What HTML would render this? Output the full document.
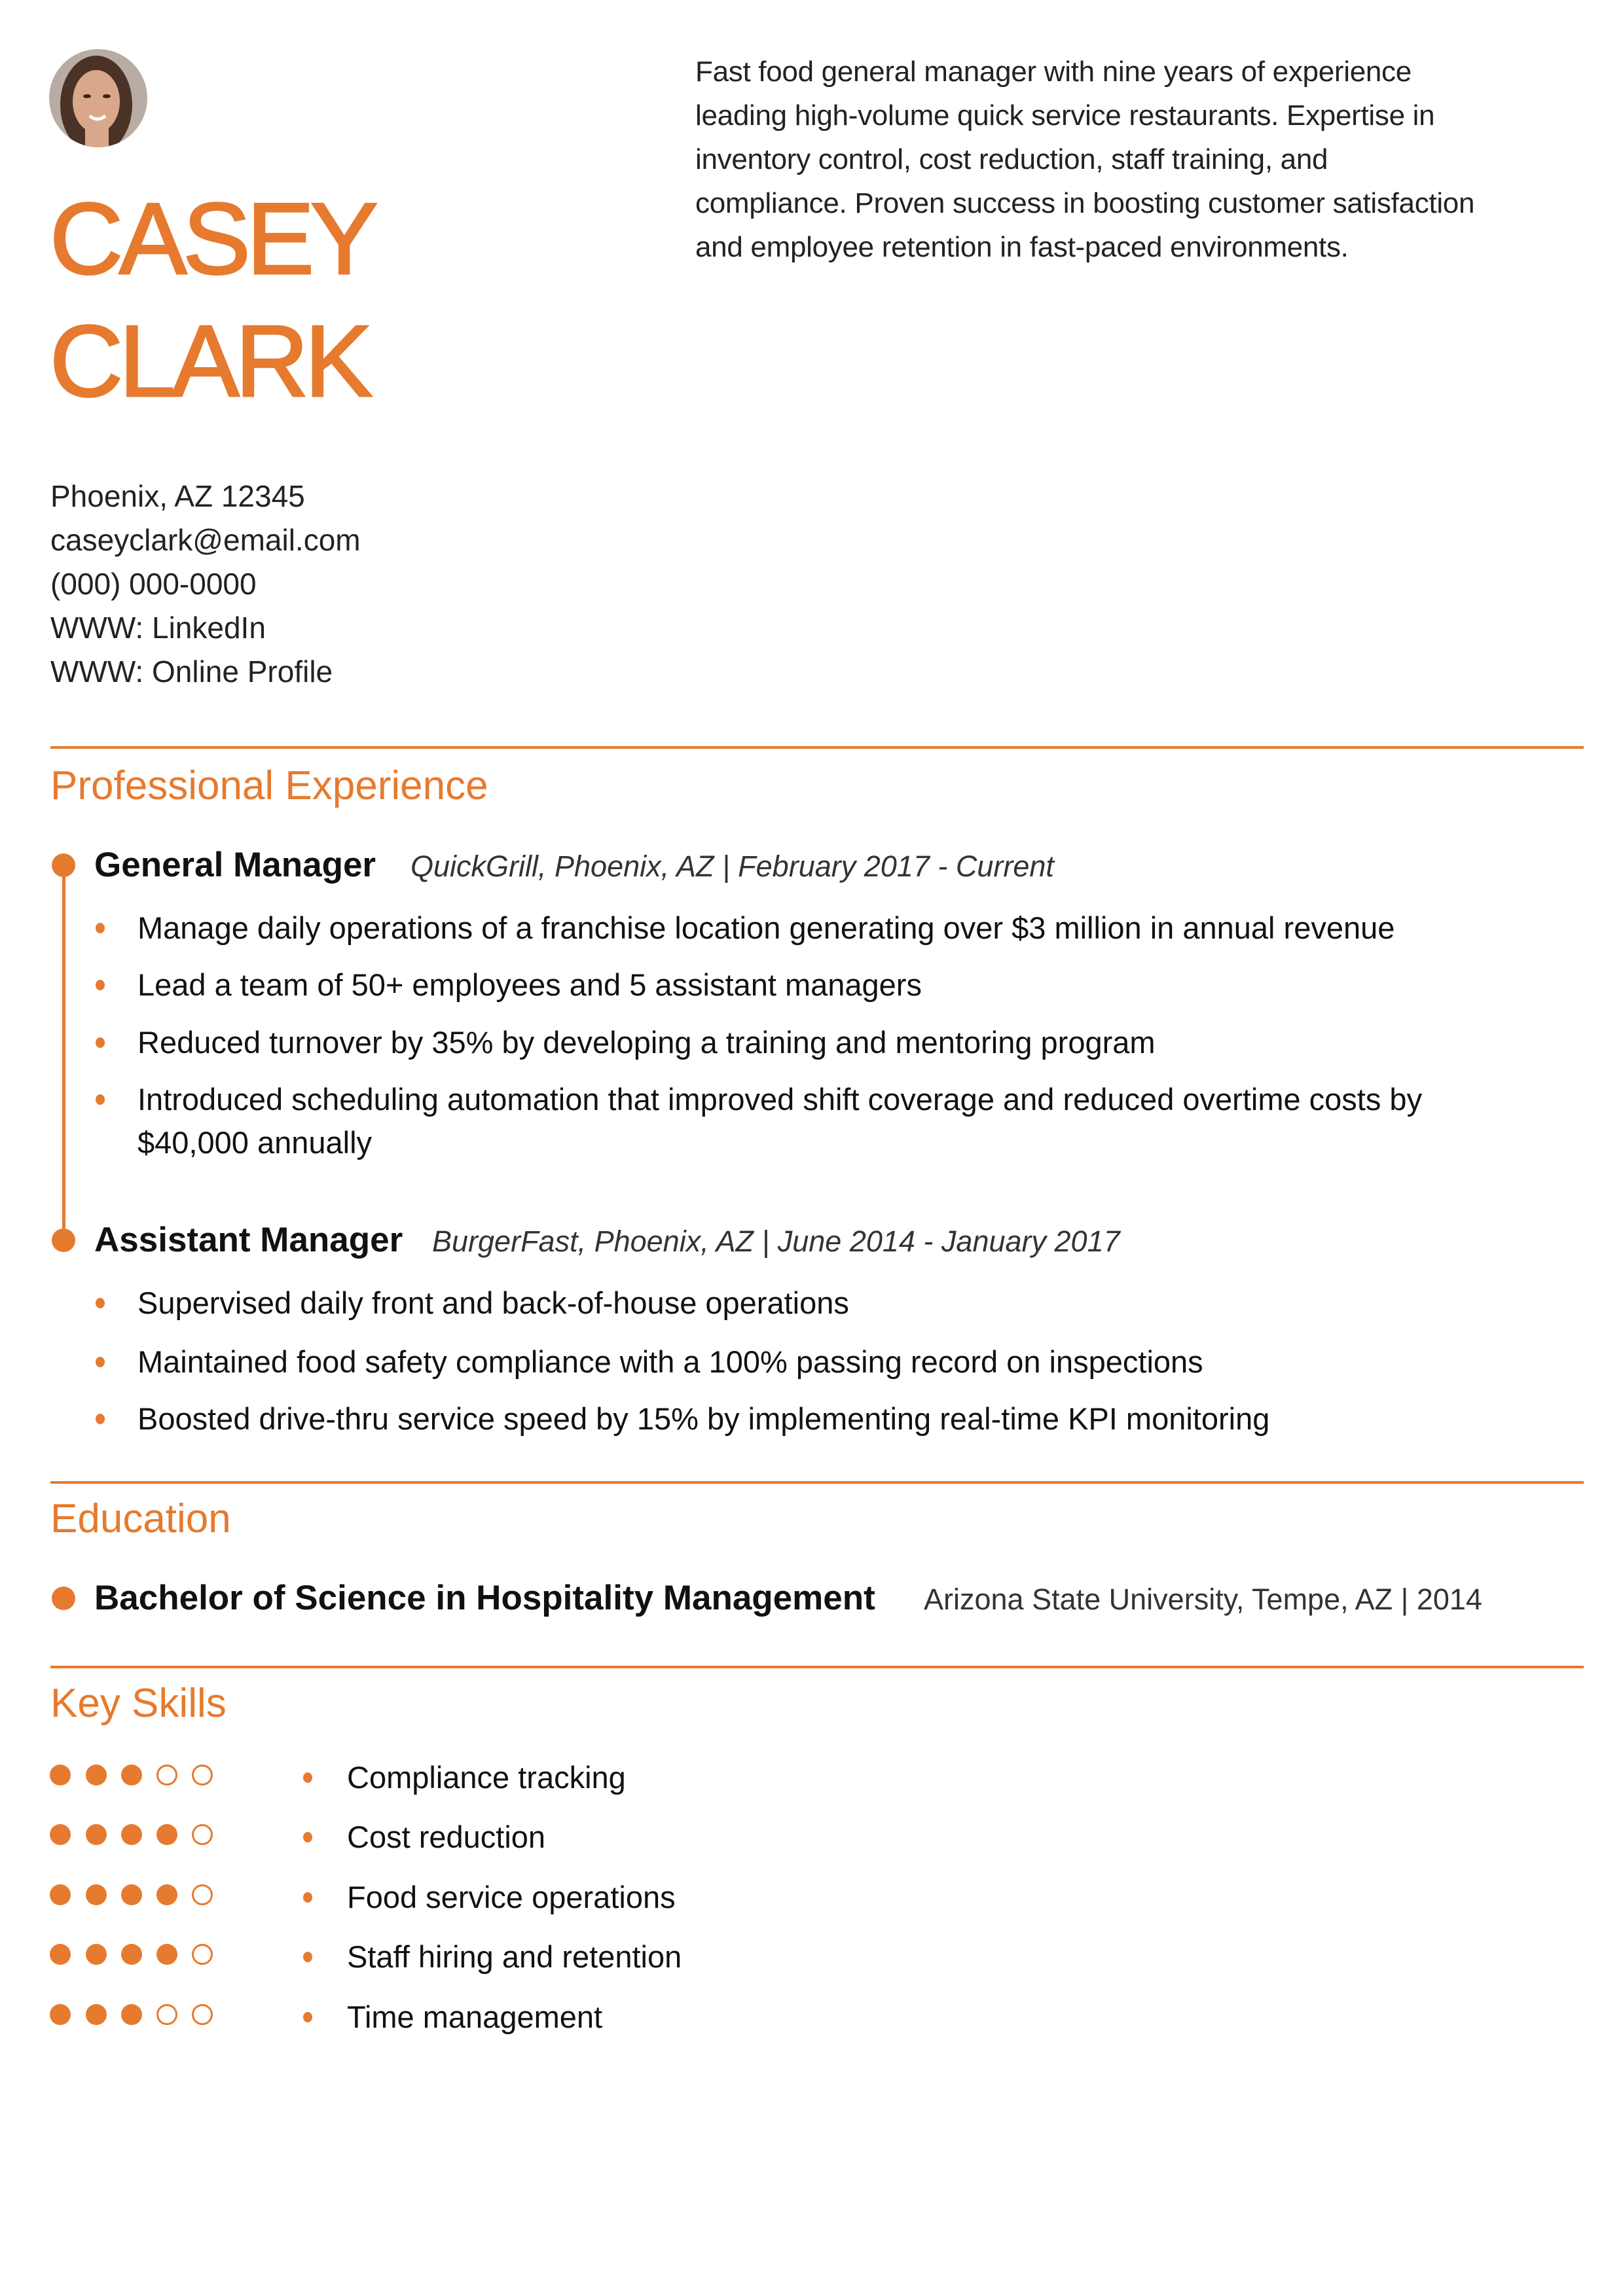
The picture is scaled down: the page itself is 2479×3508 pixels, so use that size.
<!DOCTYPE html>
<html><head><meta charset="utf-8"><style>
*{margin:0;padding:0;box-sizing:border-box}
body{width:2479px;height:3508px;background:#fff;position:relative;font-family:"Liberation Sans",sans-serif;color:#1a1a1a;overflow:hidden}
.a{position:absolute;white-space:nowrap}
.name{color:#e67a2e;font-size:155px;line-height:1.149;letter-spacing:-6px;left:76px;-webkit-text-stroke:3px #e67a2e}
.sum{left:1062px;font-size:44px;line-height:67px;letter-spacing:-0.3px;color:#222}
.con{left:77px;font-size:46px;line-height:67px;color:#222}
.rule{position:absolute;left:77px;width:2342px;height:4px;background:#e67a2e}
.h{left:77px;font-size:62px;color:#e67a2e;line-height:80px;height:80px}
.t{font-size:53px;font-weight:bold;line-height:80px;color:#111}
.c{font-size:45px;font-style:italic;line-height:80px;color:#333}
.b{left:210px;font-size:47px;line-height:66px;color:#111}
.dot{position:absolute;width:36px;height:36px;border-radius:50%;background:#e67a2e;left:79px}
.sd{position:absolute;width:14px;height:16px;border-radius:50%;background:#e67a2e}
.sk{position:absolute;width:32px;height:32px;border-radius:50%;background:#e67a2e}
.sk.o{background:#fff;border:3.5px solid #e67a2e}
</style></head><body>
<svg class="a" style="left:75px;top:75px" width="150" height="150" viewBox="0 0 150 150">
<defs><clipPath id="cp"><circle cx="75" cy="75" r="75"/></clipPath></defs>
<g clip-path="url(#cp)">
<rect width="150" height="150" fill="#b8aca4"/>
<ellipse cx="72" cy="85" rx="55" ry="75" fill="#4a3326"/>
<ellipse cx="72" cy="80" rx="36" ry="48" fill="#d9a88a"/>
<rect x="55" y="120" width="36" height="40" fill="#d9a88a"/>
<path d="M62 102 Q74 112 86 102" stroke="#fff" stroke-width="5" fill="none"/>
<ellipse cx="58" cy="72" rx="6" ry="3" fill="#3a2418"/>
<ellipse cx="88" cy="72" rx="6" ry="3" fill="#3a2418"/>
</g></svg>
<div class="a name" style="top:276px">CASEY</div>
<div class="a name" style="top:463px">CLARK</div>

<div class="a sum" style="top:76px">Fast food general manager with nine years of experience<br>leading high-volume quick service restaurants. Expertise in<br>inventory control, cost reduction, staff training, and<br>compliance. Proven success in boosting customer satisfaction<br>and employee retention in fast-paced environments.</div>

<div class="a con" style="top:725px">Phoenix, AZ 12345<br>caseyclark@email.com<br>(000) 000-0000<br>WWW: LinkedIn<br>WWW: Online Profile</div>

<div class="rule" style="top:1140px"></div>
<div class="a h" style="top:1161px">Professional Experience</div>

<div class="a" style="left:95px;top:1322px;width:5px;height:573px;background:#e67a2e"></div>
<div class="dot" style="top:1304px"></div>
<div class="a t" style="left:144px;top:1282px">General Manager</div>
<div class="a c" style="left:627px;top:1284px">QuickGrill, Phoenix, AZ | February 2017 - Current</div>

<div class="sd" style="left:146px;top:1410px"></div><div class="a b" style="top:1385px">Manage daily operations of a franchise location generating over $3 million in annual revenue</div>
<div class="sd" style="left:146px;top:1497px"></div><div class="a b" style="top:1472px">Lead a team of 50+ employees and 5 assistant managers</div>
<div class="sd" style="left:146px;top:1585px"></div><div class="a b" style="top:1560px">Reduced turnover by 35% by developing a training and mentoring program</div>
<div class="sd" style="left:146px;top:1672px"></div><div class="a b" style="top:1647px">Introduced scheduling automation that improved shift coverage and reduced overtime costs by<br>$40,000 annually</div>

<div class="dot" style="top:1877px"></div>
<div class="a t" style="left:144px;top:1855px">Assistant Manager</div>
<div class="a c" style="left:660px;top:1857px">BurgerFast, Phoenix, AZ | June 2014 - January 2017</div>

<div class="sd" style="left:146px;top:1983px"></div><div class="a b" style="top:1958px">Supervised daily front and back-of-house operations</div>
<div class="sd" style="left:146px;top:2073px"></div><div class="a b" style="top:2048px">Maintained food safety compliance with a 100% passing record on inspections</div>
<div class="sd" style="left:146px;top:2160px"></div><div class="a b" style="top:2135px">Boosted drive-thru service speed by 15% by implementing real-time KPI monitoring</div>

<div class="rule" style="top:2263px"></div>
<div class="a h" style="top:2281px">Education</div>
<div class="dot" style="top:2424px"></div>
<div class="a t" style="left:144px;top:2402px">Bachelor of Science in Hospitality Management</div>
<div class="a c" style="left:1411px;top:2404px;font-style:normal">Arizona State University, Tempe, AZ | 2014</div>

<div class="rule" style="top:2545px"></div>
<div class="a h" style="top:2563px">Key Skills</div>

<div class="sk" style="left:76px;top:2696px"></div><div class="sk" style="left:131px;top:2696px"></div><div class="sk" style="left:185px;top:2696px"></div><div class="sk o" style="left:239px;top:2696px"></div><div class="sk o" style="left:293px;top:2696px"></div>
<div class="sd" style="left:463px;top:2708px"></div><div class="a b" style="left:530px;top:2683px">Compliance tracking</div>

<div class="sk" style="left:76px;top:2787px"></div><div class="sk" style="left:131px;top:2787px"></div><div class="sk" style="left:185px;top:2787px"></div><div class="sk" style="left:239px;top:2787px"></div><div class="sk o" style="left:293px;top:2787px"></div>
<div class="sd" style="left:463px;top:2799px"></div><div class="a b" style="left:530px;top:2774px">Cost reduction</div>

<div class="sk" style="left:76px;top:2879px"></div><div class="sk" style="left:131px;top:2879px"></div><div class="sk" style="left:185px;top:2879px"></div><div class="sk" style="left:239px;top:2879px"></div><div class="sk o" style="left:293px;top:2879px"></div>
<div class="sd" style="left:463px;top:2891px"></div><div class="a b" style="left:530px;top:2866px">Food service operations</div>

<div class="sk" style="left:76px;top:2970px"></div><div class="sk" style="left:131px;top:2970px"></div><div class="sk" style="left:185px;top:2970px"></div><div class="sk" style="left:239px;top:2970px"></div><div class="sk o" style="left:293px;top:2970px"></div>
<div class="sd" style="left:463px;top:2982px"></div><div class="a b" style="left:530px;top:2957px">Staff hiring and retention</div>

<div class="sk" style="left:76px;top:3062px"></div><div class="sk" style="left:131px;top:3062px"></div><div class="sk" style="left:185px;top:3062px"></div><div class="sk o" style="left:239px;top:3062px"></div><div class="sk o" style="left:293px;top:3062px"></div>
<div class="sd" style="left:463px;top:3074px"></div><div class="a b" style="left:530px;top:3049px">Time management</div>
</body></html>
